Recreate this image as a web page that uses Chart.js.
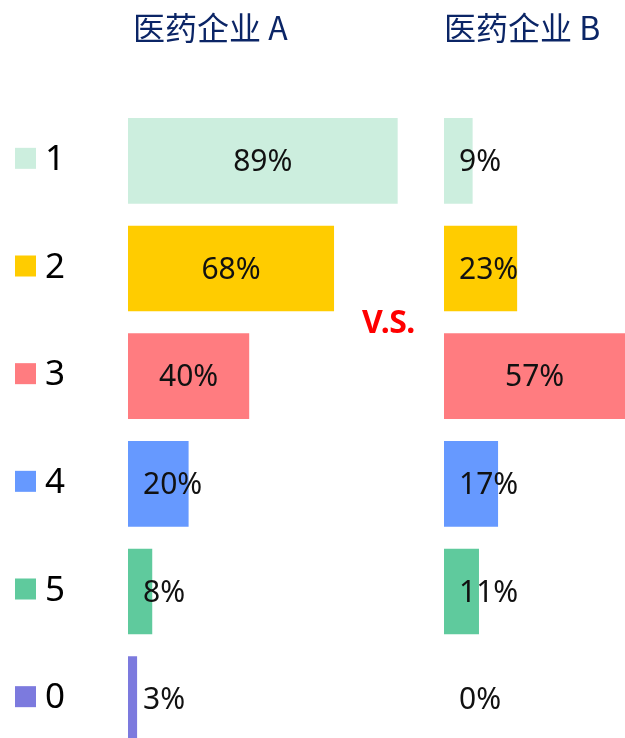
<!DOCTYPE html>
<html><head><meta charset="utf-8">
<script src="https://cdn.jsdelivr.net/npm/chart.js@4"></script>
<style>
html,body{margin:0;padding:0;background:#fff;}
body{width:625px;height:738px;overflow:hidden;position:relative;}
.t{position:absolute;top:10px;font-family:"Noto Sans CJK SC","Noto Sans";font-size:32px;line-height:32px;color:#0B2566;white-space:nowrap;}
#vs{position:absolute;left:362px;top:305px;font-family:"Noto Sans";font-weight:bold;font-size:32px;line-height:32px;color:#FF0000;white-space:nowrap;letter-spacing:-0.5px;}
#ca{position:absolute;left:0;top:0;width:440px;height:760px;}
#cb{position:absolute;left:444px;top:0;width:330px;height:760px;}
</style></head><body>
<canvas id="ca" width="440" height="760"></canvas>
<canvas id="cb" width="330" height="760"></canvas>
<div class="t" id="ta" style="left:133px"></div>
<div class="t" id="tb" style="left:444px"></div>
<div id="vs">V.S.</div>
<script>
const categories = ['1','2','3','4','5','0'];
const valuesA = [89,68,40,20,8,3];
const valuesB = [9,23,57,17,11,0];
const colors = ['#CCEEDE','#FFCC00','#FF7C80','#6699FF','#5FCA9D','#7C7ADE'];
const titles = ['医药企业 A','医药企业 B'];
const vsText = 'V.S.';

document.getElementById('ta').textContent = titles[0];
document.getElementById('tb').textContent = titles[1];
document.getElementById('vs').textContent = vsText;

const labelPlugin = {
  id:'barLabels',
  afterDatasetsDraw(chart){
    const ctx = chart.ctx;
    const meta = chart.getDatasetMeta(0);
    const data = chart.data.datasets[0].data;
    ctx.save();
    ctx.font = '30px "Noto Sans"';
    ctx.fillStyle = '#111';
    ctx.textBaseline = 'alphabetic';
    ctx.textAlign = 'left';
    meta.data.forEach((bar,i)=>{
      const txt = data[i] + '%';
      const w = ctx.measureText(txt).width;
      const cx = (bar.x + bar.base)/2;
      const x = Math.max(cx - w/2, bar.base + 15);
      ctx.fillText(txt, x, bar.y + 10);
    });
    ctx.restore();
  }
};

const legendPlugin = {
  id:'catLegend',
  afterDraw(chart){
    const ctx = chart.ctx;
    const ys = chart.scales.y;
    ctx.save();
    ctx.font = '35px "Noto Sans"';
    ctx.textBaseline = 'alphabetic';
    ctx.textAlign = 'left';
    chart.data.labels.forEach((lab,i)=>{
      const y = ys.getPixelForValue(i);
      ctx.fillStyle = colors[i];
      ctx.fillRect(15, y - 13, 21, 21);
      ctx.fillStyle = '#000';
      ctx.fillText(lab, 45, y + 9);
    });
    ctx.restore();
  }
};

function makeChart(id, values, padding, plugins){
  return new Chart(document.getElementById(id), {
    type:'bar',
    data:{labels:categories, datasets:[{data:values, backgroundColor:colors, borderWidth:0, barPercentage:0.795, categoryPercentage:1}]},
    options:{
      indexAxis:'y', responsive:false, animation:false,
      layout:{padding:padding},
      plugins:{legend:{display:false}, tooltip:{enabled:false}},
      scales:{x:{display:false,min:0,max:100}, y:{display:false}}
    },
    plugins:plugins
  });
}
makeChart('ca', valuesA, {left:128,right:9,top:107,bottom:7}, [labelPlugin, legendPlugin]);
makeChart('cb', valuesB, {left:0,right:12,top:107,bottom:7}, [labelPlugin]);
</script>
</body></html>
